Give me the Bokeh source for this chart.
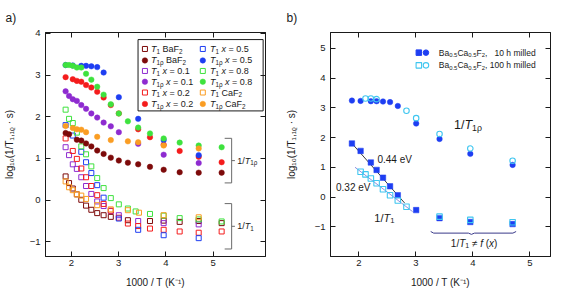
from bokeh.plotting import figure
from bokeh.models import Range1d, FixedTicker, LinearAxis
from bokeh.layouts import row
from bokeh.embed import file_html
from bokeh.resources import INLINE
from bokeh.core.properties import value

FONT = "Liberation Sans"
INK = "#1a1a1a"

# ---------------- Panel a: x = 1000/T (1/K), y = log10(1/T1,1rho · s) ----------------
baf2_t1_x = [1.876, 1.949, 2.028, 2.114, 2.208, 2.309, 2.421, 2.545, 2.681, 2.833, 3.195, 3.663, 3.953, 4.292, 4.695, 5.181]
baf2_t1_y = [0.57, 0.41, 0.28, 0.14, 0.01, -0.13, -0.23, -0.31, -0.36, -0.40, -0.48, -0.50, -0.49, -0.52, -0.50, -0.55]
baf2_t1r_x = [1.876, 1.949, 2.114, 2.208, 2.309, 2.421, 2.545, 2.681, 2.833, 3.003, 3.195, 3.413, 3.663, 3.953, 4.292, 4.695, 5.181]
baf2_t1r_y = [1.61, 1.58, 1.45, 1.43, 1.36, 1.29, 1.19, 1.11, 1.02, 0.95, 0.90, 0.86, 0.80, 0.73, 0.67, 0.66, 0.66]

x01_t1_x = [1.876, 1.949, 2.028, 2.114, 2.208, 2.309, 2.421, 2.545, 2.681, 2.833, 3.003, 3.413, 3.953, 4.695]
x01_t1_y = [1.27, 1.08, 0.86, 0.75, 0.55, 0.34, 0.15, -0.03, -0.14, -0.26, -0.36, -0.50, -0.55, -0.58]
x01_t1r_x = [1.876, 1.949, 2.028, 2.114, 2.208, 2.309, 2.421, 2.545, 2.681, 2.833, 3.003, 3.413, 3.953, 4.695]
x01_t1r_y = [2.61, 2.50, 2.42, 2.38, 2.28, 2.19, 2.08, 1.98, 1.86, 1.77, 1.63, 1.35, 1.09, 0.89]

x02_t1_x = [1.876, 2.028, 2.114, 2.208, 2.309, 2.421, 2.545, 2.681, 2.833, 3.003, 3.195, 3.413, 3.663, 3.953, 4.292, 4.695, 5.181]
x02_t1_y = [1.48, 1.18, 0.99, 0.76, 0.55, 0.34, 0.12, -0.09, -0.25, -0.42, -0.56, -0.62, -0.68, -0.71, -0.75, -0.78, -0.75]
x02_t1r_x = [1.876, 2.028, 2.114, 2.208, 2.309, 2.421, 2.545, 2.681, 2.833, 3.003, 3.413, 3.663, 3.953, 4.292, 4.695, 5.181]
x02_t1r_y = [2.95, 2.90, 2.86, 2.84, 2.76, 2.70, 2.60, 2.46, 2.28, 2.08, 1.70, 1.51, 1.33, 1.18, 1.04, 0.91]

x05_t1_x = [1.876, 2.028, 2.208, 2.309, 2.421, 2.545, 2.681, 3.003, 3.413, 3.953, 4.695]
x05_t1_y = [1.80, 1.55, 1.16, 0.91, 0.65, 0.36, 0.06, -0.44, -0.71, -0.84, -0.91]
x05_t1r_x = [1.876, 2.028, 2.208, 2.309, 2.421, 2.545, 2.681, 3.003, 3.413, 3.953, 4.695]
x05_t1r_y = [3.24, 3.23, 3.22, 3.22, 3.21, 3.19, 3.06, 2.47, 1.95, 1.44, 1.08]

x08_t1_x = [1.876, 1.949, 2.028, 2.114, 2.208, 2.309, 2.421, 2.545, 2.681, 2.833, 3.003, 3.195, 3.36, 3.663, 3.953, 4.292, 4.695, 5.181]
x08_t1_y = [2.17, 1.95, 1.85, 1.62, 1.29, 1.10, 0.81, 0.53, 0.29, 0.05, -0.10, -0.20, -0.27, -0.33, -0.37, -0.43, -0.46, -0.51]
x08_t1r_x = [1.876, 1.949, 2.028, 2.114, 2.208, 2.309, 2.421, 2.545, 2.681, 2.833, 3.003, 3.195, 3.413, 3.663, 3.953, 4.292, 4.695, 5.181]
x08_t1r_y = [3.24, 3.24, 3.22, 3.18, 3.18, 3.03, 2.89, 2.72, 2.53, 2.30, 2.08, 1.89, 1.74, 1.60, 1.48, 1.38, 1.31, 1.27]

caf2_t1_x = [1.876, 1.949, 2.028, 2.114, 2.208, 2.309, 2.545, 2.833, 3.195, 3.43, 3.953, 4.695]
caf2_t1_y = [0.45, 0.31, 0.24, 0.14, 0.11, 0.03, -0.12, -0.22, -0.24, -0.30, -0.36, -0.41]
caf2_t1r_x = [1.876, 2.028, 2.114, 2.208, 2.309, 2.545, 2.833, 3.195, 3.413, 3.953, 4.695]
caf2_t1r_y = [1.78, 1.73, 1.70, 1.69, 1.63, 1.52, 1.44, 1.41, 1.39, 1.31, 1.24]

# ---------------- Panel b: Ba0.5Ca0.5F2 after 10 h / 100 h milling ----------------
m10_t1_x = [1.876, 2.028, 2.208, 2.309, 2.421, 2.545, 2.681, 3.003, 3.413, 3.953, 4.695]
m10_t1_y = [1.80, 1.55, 1.16, 0.91, 0.65, 0.36, 0.06, -0.44, -0.71, -0.84, -0.91]
m10_t1r_x = [1.876, 2.028, 2.208, 2.309, 2.421, 2.545, 2.681, 3.003, 3.413, 3.953, 4.695]
m10_t1r_y = [3.24, 3.23, 3.22, 3.22, 3.21, 3.19, 3.06, 2.47, 1.95, 1.45, 1.08]
m100_t1_x = [2.028, 2.114, 2.208, 2.309, 2.421, 2.545, 2.681, 2.833, 3.413, 3.953, 4.695]
m100_t1_y = [0.85, 0.76, 0.62, 0.46, 0.26, 0.06, -0.12, -0.33, -0.66, -0.77, -0.85]
m100_t1r_x = [2.114, 2.208, 2.309, 2.833, 3.003, 3.413, 3.953, 4.695]
m100_t1r_y = [3.31, 3.31, 3.29, 2.90, 2.65, 2.12, 1.63, 1.22]
fit044_x = [1.84, 2.80]
fit044_y = [1.88, -0.20]
fit032_x = [1.93, 2.94]
fit032_y = [1.00, -0.49]

# tick labels
a_yticks = [-1, 0, 1, 2, 3, 4]
b_yticks = [-1, 0, 1, 2, 3, 4, 5]
xticks = [2, 3, 4, 5]

# ---------------- colours ----------------
C_BAF2 = "#7d0a0a"
C_X01 = "#8e2bd0"
C_X02 = "#f41c1c"
C_X05 = "#1e3ef2"
C_X08 = "#3ee23e"
C_CAF2 = "#fa9d23"
C_100 = "#3fc6f0"

# Arial / Liberation Sans advance widths (per 1000 em)
W = {' ': 278, '(': 333, ')': 333, ',': 278, '.': 278, '/': 278, '=': 584, '≠': 549, '·': 278,
     '−': 584, 'B': 667, 'C': 722, 'F': 611, 'T': 611, 'V': 667, 'K': 667, 'a': 556, 'd': 556,
     'e': 556, 'f': 278, 'g': 556, 'h': 556, 'i': 222, 'l': 222, 'm': 833, 'o': 556, 's': 500,
     'x': 500, 'ρ': 570}


def tw(s, size):
    return sum(W.get(c, 556) for c in s) * size / 1000.0


def rich(p, x, y, segs, size, color=INK):
    """Rich text (italic / subscript runs) anchored at data coordinates inside the frame."""
    off = 0.0
    for text, kind in segs:
        fs = size * 0.7 if kind in ("sub", "sup") else size
        shift = size * 0.26 if kind == "sub" else (-size * 0.3 if kind == "sup" else 0.0)
        style = "italic" if kind == "i" else "normal"
        lead = len(text) - len(text.lstrip(" "))
        core = text.strip(" ")
        if core:
            p.text(x=[x], y=[y], text=[core], x_offset=off + tw(" " * lead, fs), y_offset=shift,
                   text_font=value(FONT), text_font_size=value(f"{fs:.1f}px"),
                   text_font_style=value(style), text_color=color,
                   text_baseline="middle", text_align="left")
        off += tw(text, fs)


H = 290


def make_fig(width, xr, yr, yticks, left, right, ylab_standoff, tag):
    p = figure(width=width, height=H, x_range=Range1d(*xr), y_range=Range1d(*yr),
               output_backend="svg", toolbar_location=None, title=tag,
               min_border_left=left, min_border_right=right, min_border_top=30, min_border_bottom=34)
    p.title.align = "left"
    p.title.offset = -left
    p.title.text_font = FONT
    p.title.text_font_size = "12px"
    p.title.text_font_style = "normal"
    p.title.text_color = INK
    p.title.standoff = 16
    p.xgrid.visible = False
    p.ygrid.visible = False
    p.outline_line_color = INK
    p.outline_line_width = 1
    p.background_fill_color = "white"
    p.border_fill_color = "white"
    p.add_layout(LinearAxis(), "above")
    p.add_layout(LinearAxis(), "right")
    for ax in p.xaxis:
        ax.ticker = FixedTicker(ticks=xticks)
    for ax in p.yaxis:
        ax.ticker = FixedTicker(ticks=yticks)
        ax.major_label_overrides = {-1: "−1"}
    for ax in p.axis:
        ax.major_tick_in = 5
        ax.major_tick_out = 0
        ax.minor_tick_in = 0
        ax.minor_tick_out = 0
        ax.axis_line_color = INK
        ax.major_tick_line_color = INK
        ax.major_label_text_font = FONT
        ax.major_label_text_color = INK
        ax.major_label_text_font_size = "9.5px"
        ax.major_label_standoff = 5
        ax.axis_label_text_font = FONT
        ax.axis_label_text_font_size = "10px"
        ax.axis_label_text_font_style = "normal"
        ax.axis_label_text_color = INK
    for ax in (p.above[0], p.right[0]):
        ax.major_label_text_color = None
        ax.major_label_text_font_size = "0px"
        ax.major_label_standoff = 0
    p.below[0].major_label_standoff = 3
    p.below[0].axis_label = "1000 / T (K⁻¹)"
    p.below[0].axis_label_standoff = 8
    p.left[0].axis_label = "log₁₀(1/T₁,₁ᵨ · s)"
    p.left[0].axis_label_standoff = ylab_standoff
    return p


def opensq(p, x, y, c, size=5):
    p.scatter(x, y, marker="square", size=size, fill_color=None, line_color=c, line_width=1)


def dot(p, x, y, c, size=5.5):
    p.scatter(x, y, marker="circle", size=size, fill_color=c, line_color=c, line_width=0.5)


# ======================= panel a =======================
pa = make_fig(282, (1.45, 6.11), (-1.35, 4.02), a_yticks, 40, 17, 12, "a)")

pa.quad(left=[3.41], right=[6.06], top=[3.85], bottom=[2.14], fill_color="white", line_color=INK, line_width=1)

series_a = [
    (baf2_t1_x, baf2_t1_y, baf2_t1r_x, baf2_t1r_y, C_BAF2, [(" BaF", "n"), ("2", "sub")]),
    (x01_t1_x, x01_t1_y, x01_t1r_x, x01_t1r_y, C_X01, [(" ", "n"), ("x", "i"), (" = 0.1", "n")]),
    (x02_t1_x, x02_t1_y, x02_t1r_x, x02_t1r_y, C_X02, [(" ", "n"), ("x", "i"), (" = 0.2", "n")]),
    (x05_t1_x, x05_t1_y, x05_t1r_x, x05_t1r_y, C_X05, [(" ", "n"), ("x", "i"), (" = 0.5", "n")]),
    (x08_t1_x, x08_t1_y, x08_t1r_x, x08_t1r_y, C_X08, [(" ", "n"), ("x", "i"), (" = 0.8", "n")]),
    (caf2_t1_x, caf2_t1_y, caf2_t1r_x, caf2_t1r_y, C_CAF2, [(" CaF", "n"), ("2", "sub")]),
]

for x1, y1, x2, y2, c, _ in series_a:
    opensq(pa, x1, y1, c)
for x1, y1, x2, y2, c, _ in series_a:
    dot(pa, x2, y2, c)

leg_rows_y = [3.625, 3.35, 3.098, 2.84, 2.581, 2.307]
leg_cols = [(3.556, 3.684), (4.782, 4.933)]
T1 = [("T", "i"), ("1", "sub")]
T1R = [("T", "i"), ("1ρ", "sub")]
for i, (_, _, _, _, c, name) in enumerate(series_a):
    mx, tx = leg_cols[i // 3]
    r0 = (i % 3) * 2
    opensq(pa, [mx], [leg_rows_y[r0]], c)
    rich(pa, tx, leg_rows_y[r0], T1 + name, 9)
    dot(pa, [mx], [leg_rows_y[r0 + 1]], c)
    rich(pa, tx, leg_rows_y[r0 + 1], T1R + name, 9)

BR = "#6a6a6a"
for top, bot in [(1.483, 0.414), (-0.082, -1.17)]:
    mid = (top + bot) / 2
    pa.line([5.245, 5.393, 5.393, 5.245], [top, top, bot, bot], line_color=BR, line_width=1)
    pa.line([5.393, 5.462], [mid, mid], line_color=BR, line_width=1)
rich(pa, 5.51, 0.95, [("1/", "n"), ("T", "i"), ("1ρ", "sub")], 9)
rich(pa, 5.51, -0.626, [("1/", "n"), ("T", "i"), ("1", "sub")], 9)

# ======================= panel b =======================
pb = make_fig(269, (1.5, 5.36), (-2.0, 5.53), b_yticks, 44, 1, 15, "b)")

pb.line(fit044_x, fit044_y, line_color="#3a3a3a", line_width=1)
pb.line(fit032_x, fit032_y, line_color="#8f8fe0", line_width=1)

pb.scatter(m10_t1_x, m10_t1_y, marker="square", size=5.5, fill_color=C_X05, line_color=C_X05, line_width=0.5)
pb.scatter(m100_t1_x, m100_t1_y, marker="square", size=5.5, fill_color=None, line_color=C_100, line_width=1.1)
pb.scatter(m10_t1r_x, m10_t1r_y, marker="circle", size=5.5, fill_color=C_X05, line_color=C_X05, line_width=0.5)
pb.scatter(m100_t1r_x, m100_t1r_y, marker="circle", size=5.5, fill_color=None, line_color=C_100, line_width=1.1)

pb.scatter([3.05], [4.853], marker="square", size=5.5, fill_color=C_X05, line_color=C_X05)
pb.scatter([3.175], [4.853], marker="circle", size=5.5, fill_color=C_X05, line_color=C_X05)
pb.scatter([3.05], [4.426], marker="square", size=5.5, fill_color=None, line_color=C_100, line_width=1.1)
pb.scatter([3.175], [4.426], marker="circle", size=5.5, fill_color=None, line_color=C_100, line_width=1.1)
comp = [("Ba", "n"), ("0.5", "sub"), ("Ca", "n"), ("0.5", "sub"), ("F", "n"), ("2", "sub"), (",", "n")]
rich(pb, 3.40, 4.853, comp + [("   10 h milled", "n")], 8.5)
rich(pb, 3.40, 4.426, comp + [(" 100 h milled", "n")], 8.5)

rich(pb, 3.667, 2.43, [("1/", "n"), ("T", "i"), ("1ρ", "sub")], 12.5)
rich(pb, 2.324, 1.262, [("0.44 eV", "n")], 10)
rich(pb, 1.597, 0.328, [("0.32 eV", "n")], 10)
rich(pb, 2.268, -0.704, [("1/", "n"), ("T", "i"), ("1", "sub")], 11)
rich(pb, 3.611, -1.552, [("1/", "n"), ("T", "i"), ("1", "sub"), (" ≠ ", "n"), ("f", "i"),
                         (" (", "n"), ("x", "i"), (")", "n")], 10)
pb.line([3.258, 3.31, 3.92, 3.973, 4.026, 4.70, 4.757],
        [-1.16, -1.214, -1.214, -1.256, -1.214, -1.214, -1.16], line_color="#3a3a8a", line_width=1)

layout = row(pa, pb)
open("out.html", "w").write(file_html(layout, INLINE))
